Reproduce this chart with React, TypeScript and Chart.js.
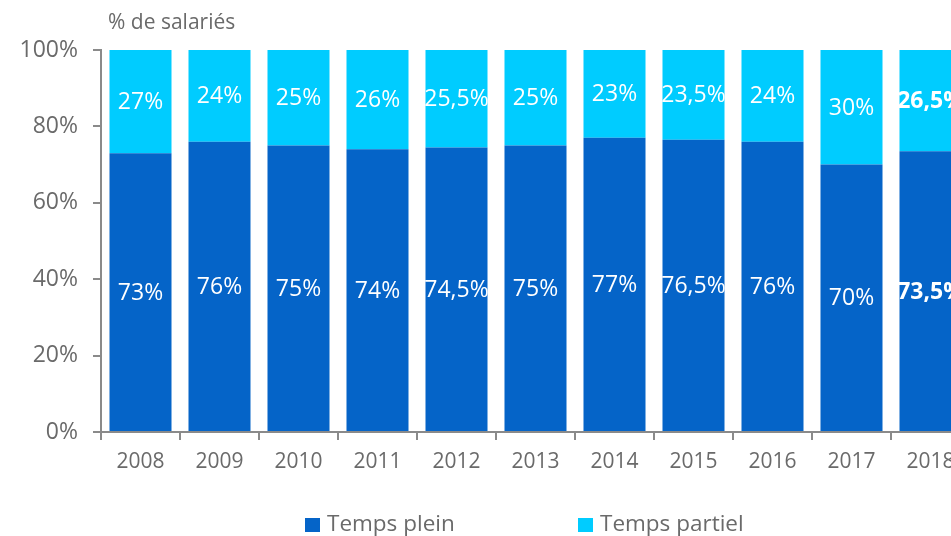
import React, { useEffect, useRef } from "react";
import { Chart, registerables } from "chart.js";

Chart.register(...registerables);

const categories = ["2008", "2009", "2010", "2011", "2012", "2013", "2014", "2015", "2016", "2017", "2018"];
const tempsPlein = [73, 76, 75, 74, 74.5, 75, 77, 76.5, 76, 70, 73.5];
const tempsPartiel = [27, 24, 25, 26, 25.5, 25, 23, 23.5, 24, 30, 26.5];
const seriesNames = ["Temps plein", "Temps partiel"];
const seriesColors = ["#0564C8", "#00CCFF"];
const yTickValues = [0, 20, 40, 60, 80, 100];
const boldCategory = "2018";
const yTitle = "% de salariés";

const FONT = "'Open Sans', 'DejaVu Sans', sans-serif";
const TEXT_GRAY = "#6a6a6a";
const AXIS_GRAY = "#8a8a8a";

const fmt = (v: number) => String(v).replace(".", ",") + "%";

const labelsPlugin = {
  id: "barLabels",
  afterDatasetsDraw(chart: any) {
    const ctx = chart.ctx;
    ctx.save();
    ctx.fillStyle = "#ffffff";
    ctx.textAlign = "center";
    ctx.textBaseline = "middle";
    chart.data.datasets.forEach((ds: any, di: number) => {
      const meta = chart.getDatasetMeta(di);
      meta.data.forEach((el: any, i: number) => {
        const p = el.getProps(["x", "y", "base"], true);
        const bold = chart.data.labels[i] === boldCategory;
        ctx.font = `${bold ? "bold " : ""}23px ${FONT}`;
        ctx.fillText(fmt(ds.data[i]), p.x, (p.y + p.base) / 2 + 1);
      });
    });
    ctx.restore();
  },
};

const decorPlugin = {
  id: "decor",
  afterDraw(chart: any) {
    const ctx = chart.ctx;
    const area = chart.chartArea;
    ctx.save();
    // title
    ctx.fillStyle = TEXT_GRAY;
    ctx.font = `21px ${FONT}`;
    ctx.textAlign = "left";
    ctx.textBaseline = "alphabetic";
    ctx.fillText(yTitle, area.left + 7, 29);
    // legend
    const offsets = [204, 477];
    ctx.font = `22.5px ${FONT}`;
    chart.data.datasets.forEach((ds: any, i: number) => {
      const x = area.left + offsets[i];
      const y = 518;
      ctx.fillStyle = ds.backgroundColor;
      ctx.fillRect(x, y, 15, 14);
      ctx.fillStyle = TEXT_GRAY;
      ctx.fillText(ds.label, x + 22, y + 13);
    });
    ctx.restore();
  },
};

export default function App() {
  const ref = useRef<HTMLCanvasElement | null>(null);
  useEffect(() => {
    if (!ref.current) return;
    const chart = new Chart(ref.current, {
      type: "bar",
      data: {
        labels: categories,
        datasets: [
          { label: seriesNames[0], data: tempsPlein, backgroundColor: seriesColors[0] },
          { label: seriesNames[1], data: tempsPartiel, backgroundColor: seriesColors[1] },
        ],
      },
      options: {
        animation: false,
        responsive: false,
        devicePixelRatio: 1,
        layout: { padding: { top: 50, right: 20, bottom: 0, left: 0 } },
        datasets: { bar: { categoryPercentage: 1, barPercentage: 0.785 } },
        plugins: { legend: { display: false }, tooltip: { enabled: false }, title: { display: false } },
        scales: {
          x: {
            stacked: true,
            grid: {
              offset: true,
              drawOnChartArea: false,
              drawTicks: true,
              tickLength: 8,
              color: AXIS_GRAY,
              lineWidth: 2,
            },
            border: { display: true, color: AXIS_GRAY, width: 2 },
            ticks: { color: TEXT_GRAY, font: { family: FONT, size: 21 }, padding: 9 },
            afterFit: (s: any) => {
              s.height = 104;
            },
          },
          y: {
            stacked: true,
            min: 0,
            max: 100,
            afterBuildTicks: (s: any) => {
              s.ticks = yTickValues.map((v) => ({ value: v }));
            },
            grid: {
              drawOnChartArea: false,
              drawTicks: true,
              tickLength: 8,
              color: AXIS_GRAY,
              lineWidth: 2,
            },
            border: { display: true, color: AXIS_GRAY, width: 2 },
            ticks: {
              color: TEXT_GRAY,
              font: { family: FONT, size: 23 },
              padding: 15,
              callback: (v: any) => v + "%",
            },
            afterFit: (s: any) => {
              s.width = 101;
            },
          },
        },
      },
      plugins: [labelsPlugin, decorPlugin],
    });
    return () => chart.destroy();
  }, []);

  return (
    <div
      style={{
        position: "fixed",
        left: 0,
        top: 0,
        width: 951,
        height: 536,
        overflow: "hidden",
        background: "#ffffff",
      }}
    >
      <canvas ref={ref} width={990} height={536} style={{ display: "block" }} />
    </div>
  );
}
